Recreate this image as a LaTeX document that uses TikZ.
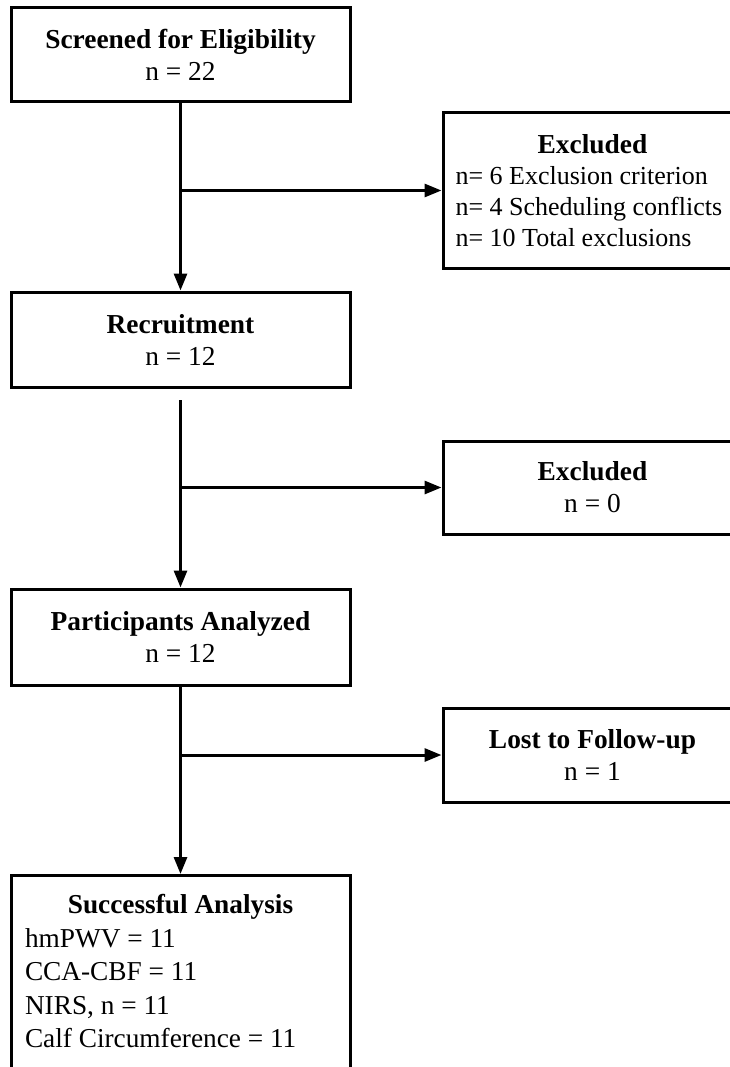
\documentclass[tikz,border=0pt]{standalone}
\usepackage{fontspec}
\setmainfont{Liberation Serif}
\usetikzlibrary{arrows.meta}
\begin{document}
\begin{tikzpicture}[x=1pt,y=-1pt,
  box/.style={draw, line width=3pt, inner sep=0pt, font=\fontsize{27.4}{32}\selectfont, align=flush center},
  txt/.style={inner sep=0pt, font=\fontsize{27.3}{33.5}\selectfont},
  arr/.style={line width=3pt, -{Triangle[length=17pt,width=13pt]}}]
\useasboundingbox (0,0) rectangle (730,1067);
\clip (0,0) rectangle (730,1067);

\node[box, minimum width=339pt, minimum height=94pt] (screen) at (180.5,55)
  {\textbf{Screened for Eligibility}\\n = 22};
\node[box, minimum width=299pt, minimum height=155pt, text width=274pt, align=flush left,
      font=\fontsize{27.4}{31}\selectfont] (excl1) at (592.5,190.5)
  {\makebox[274pt]{\textbf{Excluded}}\\\fontsize{26}{31}\selectfont n= 6 Exclusion criterion\\n= 4 Scheduling conflicts\\n= 10 Total exclusions};
\node[box, minimum width=339pt, minimum height=95pt] (recruit) at (180.5,339.5)
  {\textbf{Recruitment}\\n = 12};
\node[box, minimum width=299pt, minimum height=93pt] (excl2) at (592.5,487.5)
  {\textbf{Excluded}\\n = 0};
\node[box, minimum width=339pt, minimum height=96pt] (part) at (180.5,637)
  {\textbf{Participants Analyzed}\\n = 12};
\node[box, minimum width=299pt, minimum height=94pt] (lost) at (592.5,755)
  {\textbf{Lost to Follow-up}\\n = 1};
\node[draw, line width=3pt, inner sep=0pt, minimum width=339pt, minimum height=240pt, anchor=north] (succ) at (180.5,874) {};
\node[txt, text width=311pt, align=flush left, anchor=north] (succtxt) at (180.5,894.5)
  {\makebox[311pt]{\textbf{Successful Analysis}}\\hmPWV = 11\\CCA-CBF = 11\\NIRS, n = 11\\Calf Circumference = 11};

\coordinate (s2) at (180.5,400);
\draw[arr] (screen.south) -- (recruit.north);
\draw[arr] (screen.south |- excl1.west) -- (excl1.west);
\draw[arr] (s2) -- (part.north);
\draw[arr] (s2 |- excl2.west) -- (excl2.west);
\draw[arr] (part.south) -- (succ.north);
\draw[arr] (part.south |- lost.west) -- (lost.west);
\end{tikzpicture}
\end{document}
